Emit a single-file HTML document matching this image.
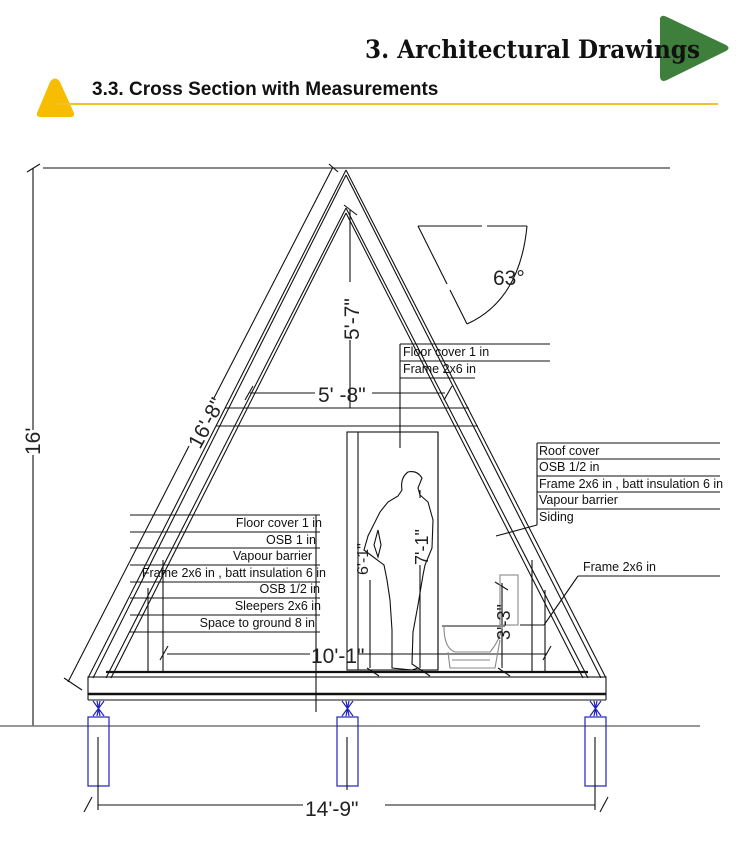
<!DOCTYPE html>
<html><head><meta charset="utf-8"><style>
html,body{margin:0;padding:0;background:#fff;width:742px;height:848px;overflow:hidden}
svg{display:block}
text{font-family:"Liberation Sans Narrow","Liberation Sans",sans-serif}
</style></head><body>
<svg width="742" height="848" viewBox="0 0 742 848" xmlns="http://www.w3.org/2000/svg">
<!-- header -->
<path d="M660 18 Q662 14 667 17 L726 45 Q731 48 726 51 L667 80 Q661 83 660 77 Z" fill="#3f7f3c"/>
<text x="365" y="58" textLength="335" lengthAdjust="spacingAndGlyphs" font-weight="bold" font-size="25" fill="#111" style="font-family:'DejaVu Serif','Liberation Serif',serif">3. Architectural Drawings</text>
<path d="M37 113 L50 82 Q55 75 60 82 L74 113 Q75 117 70 117 L41 117 Q36 117 37 113Z" fill="#f7bd00"/>
<line x1="55" y1="104" x2="718" y2="104" stroke="#f2c12e" stroke-width="2"/>
<text x="92" y="95" font-weight="bold" font-size="19" fill="#111" style="font-family:'Liberation Sans',sans-serif">3.3. Cross Section with Measurements</text>

<g stroke="#111" stroke-width="1.1" fill="none">
<line x1="43" y1="168" x2="670" y2="168"/>
<line x1="33" y1="168" x2="33" y2="430"/><line x1="33" y1="455" x2="33" y2="726"/>
<line x1="27" y1="172" x2="40" y2="164"/>
<line x1="0" y1="726" x2="700" y2="726" stroke="#777" stroke-width="1.4"/>
<line x1="333" y1="167" x2="214" y2="398"/><line x1="189" y1="446" x2="68" y2="682"/>
<line x1="64" y1="678" x2="82" y2="690"/><line x1="329" y1="164" x2="338" y2="172"/>
<line x1="346" y1="170" x2="88" y2="678"/><line x1="346" y1="175" x2="93" y2="678"/>
<line x1="346" y1="208" x2="106" y2="678"/><line x1="346" y1="213" x2="111" y2="678"/>
<line x1="346" y1="170" x2="606" y2="678"/><line x1="346" y1="175" x2="601" y2="678"/>
<line x1="346" y1="208" x2="588" y2="678"/><line x1="346" y1="213" x2="583" y2="678"/>
<line x1="225" y1="408" x2="469" y2="408"/><line x1="216" y1="426" x2="478" y2="426"/>
<line x1="250" y1="393" x2="315" y2="393"/><line x1="372" y1="393" x2="445" y2="393"/>
<line x1="245" y1="400" x2="253" y2="386"/><line x1="444" y1="400" x2="452" y2="386"/>
<line x1="350" y1="210" x2="350" y2="282"/><line x1="350" y1="340" x2="350" y2="408"/>
<line x1="344" y1="205" x2="357" y2="215"/>
<line x1="418" y1="226" x2="482" y2="226"/><line x1="487" y1="226" x2="527" y2="226"/>
<line x1="418" y1="226" x2="447" y2="284"/><line x1="450" y1="290" x2="467" y2="324"/>
<path d="M467 324 Q520 300 527 226"/>
<line x1="400" y1="344" x2="550" y2="344"/><line x1="400" y1="361" x2="550" y2="361"/><line x1="400" y1="378" x2="475" y2="378"/>
<line x1="400" y1="344" x2="400" y2="448"/>
<rect x="347" y="432" width="91" height="238"/>
<line x1="358" y1="432" x2="358" y2="670"/>
<g>
<line x1="537" y1="443" x2="720" y2="443"/><line x1="537" y1="459" x2="720" y2="459"/>
<line x1="537" y1="476" x2="720" y2="476"/><line x1="537" y1="492" x2="720" y2="492"/>
<line x1="537" y1="509" x2="720" y2="509"/>
<line x1="537" y1="443" x2="537" y2="525"/><line x1="537" y1="525" x2="496" y2="536"/>
</g>
<line x1="578" y1="576" x2="720" y2="576"/><line x1="578" y1="576" x2="544" y2="625"/><line x1="544" y1="625" x2="520" y2="625"/>
<line x1="130" y1="515" x2="320" y2="515"/><line x1="130" y1="532" x2="320" y2="532"/>
<line x1="130" y1="548" x2="320" y2="548"/><line x1="130" y1="565" x2="320" y2="565"/>
<line x1="130" y1="582" x2="320" y2="582"/><line x1="130" y1="598" x2="320" y2="598"/>
<line x1="130" y1="615" x2="320" y2="615"/><line x1="130" y1="632" x2="320" y2="632"/>
<line x1="316" y1="515" x2="316" y2="712"/>
<line x1="148" y1="588" x2="148" y2="672"/><line x1="163" y1="560" x2="163" y2="672"/>
<line x1="532" y1="560" x2="532" y2="672"/><line x1="545" y1="590" x2="545" y2="672"/>
<line x1="438" y1="432" x2="438" y2="670"/>
<line x1="167" y1="654" x2="310" y2="654"/><line x1="358" y1="654" x2="547" y2="654"/>
<line x1="160" y1="660" x2="168" y2="646"/><line x1="543" y1="660" x2="551" y2="646"/>
<line x1="106" y1="672" x2="588" y2="672" stroke-width="2.2"/>
<rect x="88" y="677" width="518" height="17"/>
<line x1="88" y1="694" x2="606" y2="694" stroke-width="2.4"/>
<line x1="88" y1="700" x2="606" y2="700"/>
<line x1="88" y1="694" x2="88" y2="700"/><line x1="606" y1="694" x2="606" y2="700"/>
<line x1="370" y1="580" x2="370" y2="668"/><line x1="367" y1="668" x2="379" y2="676"/>
<line x1="420" y1="490" x2="420" y2="498"/><line x1="420" y1="565" x2="420" y2="668"/>
<line x1="418" y1="668" x2="430" y2="676"/>
<line x1="502" y1="583" x2="502" y2="668"/><line x1="495" y1="582" x2="508" y2="590"/><line x1="498" y1="668" x2="510" y2="676"/>
<path d="M408 472 Q400 478 402 490 L398 496 L388 502 L380 512 L368 536 L364 550 L372 556 L384 565 L387 580 L390 600 L392 630 L392 668 L412 670 L418 668 L412 664 L413 632 L418 605 L423 575 L425 565 L432 548 L433 520 L428 502 L420 495 L418 488 L422 478 Q417 470 408 472 Z"/>
<path d="M378 530 L374 545 L378 557 L381 545 Z"/>
<g stroke="#888">
<rect x="500" y="575" width="18" height="50"/>
<line x1="442" y1="626" x2="505" y2="626" stroke-width="2"/>
<path d="M444 627 Q444 648 455 652 L490 652 Q500 640 502 627"/>
<path d="M448 652 L450 668 L495 668 L500 640"/>
<line x1="452" y1="660" x2="490" y2="660"/>
</g>
</g>
<g stroke="#2020c0" stroke-width="1.2" fill="none">
<rect x="88" y="717" width="21" height="69"/><rect x="337" y="717" width="21" height="69"/><rect x="585" y="717" width="21" height="69"/>
<path d="M93 701 L104 716 M104 701 L93 716 M97 701 L100 716 M100 701 L97 716"/>
<path d="M342 701 L353 716 M353 701 L342 716 M346 701 L349 716 M349 701 L346 716"/>
<path d="M590 701 L601 716 M601 701 L590 716 M594 701 L597 716 M597 701 L594 716"/>
</g>
<g stroke="#111" stroke-width="1.1">
<line x1="98" y1="737" x2="98" y2="810"/><line x1="347" y1="737" x2="347" y2="790"/><line x1="595" y1="737" x2="595" y2="810"/>
<line x1="98" y1="805" x2="303" y2="805"/><line x1="385" y1="805" x2="595" y2="805"/>
<line x1="84" y1="812" x2="92" y2="797"/><line x1="600" y1="812" x2="608" y2="797"/>
</g>
<g fill="#111" font-size="12.5">
<text x="403" y="356">Floor cover  1 in</text>
<text x="403" y="373">Frame  2x6 in</text>
<text x="539" y="455">Roof cover</text>
<text x="539" y="471">OSB 1/2 in</text>
<text x="539" y="488">Frame  2x6 in , batt insulation   6 in</text>
<text x="539" y="504">Vapour barrier</text>
<text x="539" y="521">Siding</text>
<text x="583" y="571">Frame  2x6 in</text>
<g text-anchor="end">
<text x="322" y="527">Floor cover  1 in</text>
<text x="316" y="544">OSB  1 in</text>
<text x="312" y="560">Vapour barrier</text>
<text x="326" y="577">Frame  2x6 in , batt insulation   6 in</text>
<text x="320" y="593">OSB  1/2 in</text>
<text x="321" y="610">Sleepers  2x6 in</text>
<text x="315" y="627">Space to ground   8 in</text>
</g>
</g>
<g fill="#222" font-weight="300" style="font-family:'DejaVu Sans',sans-serif">
<text x="318" y="402" font-size="21">5' -8"</text>
<text x="493" y="285" font-size="21">63°</text>
<text x="311" y="663" font-size="21">10'-1"</text>
<text x="305" y="816" font-size="21">14'-9"</text>
<text transform="translate(359,340) rotate(-90)" font-size="21">5'-7"</text>
<text transform="translate(40,455) rotate(-90)" font-size="21">16'</text>
<text transform="translate(200,450) rotate(-62)" font-size="21">16'-8"</text>
<text transform="translate(368,575) rotate(-90)" font-size="16">6'-1"</text>
<text transform="translate(428,565) rotate(-90)" font-size="18">7'-1"</text>
<text transform="translate(510,640) rotate(-90)" font-size="18">3'-3"</text>
</g>
</svg>
</body></html>
